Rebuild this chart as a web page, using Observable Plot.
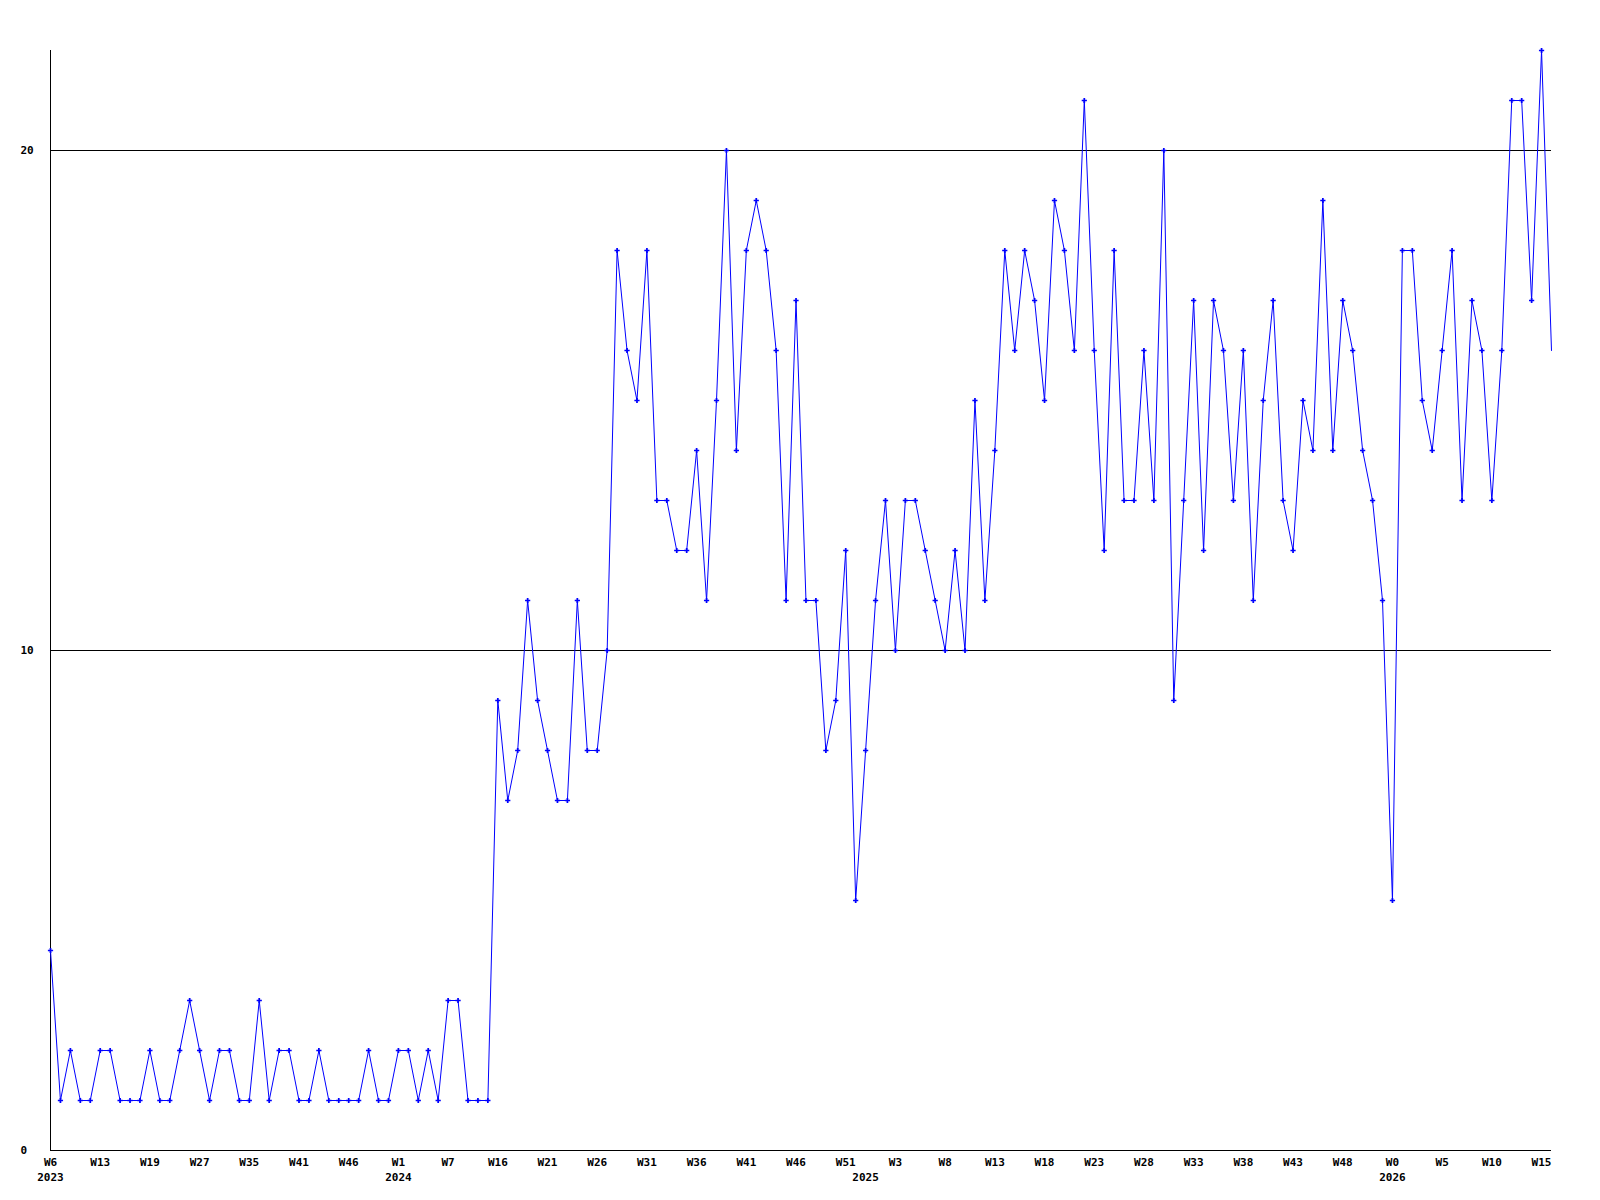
<!DOCTYPE html>
<html>
<head>
<meta charset="utf-8">
<script src="https://cdn.jsdelivr.net/npm/d3@7"></script>
<script src="https://cdn.jsdelivr.net/npm/@observablehq/plot@0.6"></script>
<style>
  html, body { margin: 0; padding: 0; background: #fff; }
</style>
</head>
<body>
<div id="chart"></div>
<script>
// Weekly values, one per data point (evenly spaced along x)
const values = [
  4,1,2,1,1,2,2,1,1,1,2,1,1,2,3,2,1,2,2,1,1,3,1,2,2,1,1,2,1,1,1,1,2,1,1,2,2,1,2,1,3,3,1,1,1,
  9,7,8,11,9,8,7,7,11,8,8,10,
  18,16,15,18,13,13,12,12,14,11,15,20,14,18,19,18,16,11,17,11,11,
  8,9,12,5,8,11,13,10,13,13,12,11,10,12,10,
  15,11,14,18,16,18,17,15,19,18,16,21,16,12,18,13,13,16,13,20,9,13,17,
  12,17,16,13,16,11,15,17,13,12,15,14,19,14,17,16,14,13,11,
  5,18,18,15,14,16,18,13,17,16,13,16,21,21,17,22,16
];

// Week tick labels (one every 5th data point)
const weekLabels = ["W6","W13","W19","W27","W35","W41","W46","W1","W7","W16","W21","W26","W31","W36","W41","W46","W51","W3","W8","W13","W18","W23","W28","W33","W38","W43","W48","W0","W5","W10","W15"];
const weekTickIndex = weekLabels.map((_, i) => i * 5);

// Year labels and the data point where each year starts
const yearLabels = ["2023","2024","2025","2026"];
const yearStartIndex = [0, 35, 82, 135];

const yTicks = [0, 10, 20];

const chart = Plot.plot({
  width: 1600,
  height: 1200,
  marginLeft: 50,
  marginRight: 49,
  marginTop: 50,
  marginBottom: 50,
  style: {
    fontFamily: "'DejaVu Sans Mono', monospace",
    fontSize: "11px",
    fontWeight: "bold",
    background: "#ffffff",
    color: "#000000"
  },
  x: { domain: [0, values.length - 1] },
  y: { domain: [0, 22] },
  marks: [
    Plot.ruleY(yTicks, { stroke: "#000", strokeWidth: 1 }),
    Plot.ruleX([0], { stroke: "#000", strokeWidth: 1 }),
    Plot.axisY({
      ticks: yTicks,
      tickSize: 0,
      tickPadding: 0,
      textAnchor: "start",
      dx: -30,
      label: null,
      tickFormat: d => String(d)
    }),
    Plot.axisX({
      ticks: weekTickIndex,
      tickSize: 0,
      tickPadding: 8,
      label: null,
      tickFormat: d => weekLabels[weekTickIndex.indexOf(d)]
    }),
    Plot.axisX({
      ticks: yearStartIndex,
      tickSize: 0,
      tickPadding: 23,
      label: null,
      tickFormat: d => yearLabels[yearStartIndex.indexOf(d)]
    }),
    Plot.line(values, {
      x: (d, i) => i,
      y: d => d,
      stroke: "#0000ff",
      strokeWidth: 1
    }),
    Plot.dot(values.slice(0, -1), {
      x: (d, i) => i,
      y: d => d,
      symbol: "cross",
      r: 2.2,
      fill: "#0000ff"
    })
  ]
});

document.getElementById("chart").appendChild(chart);
</script>
</body>
</html>
